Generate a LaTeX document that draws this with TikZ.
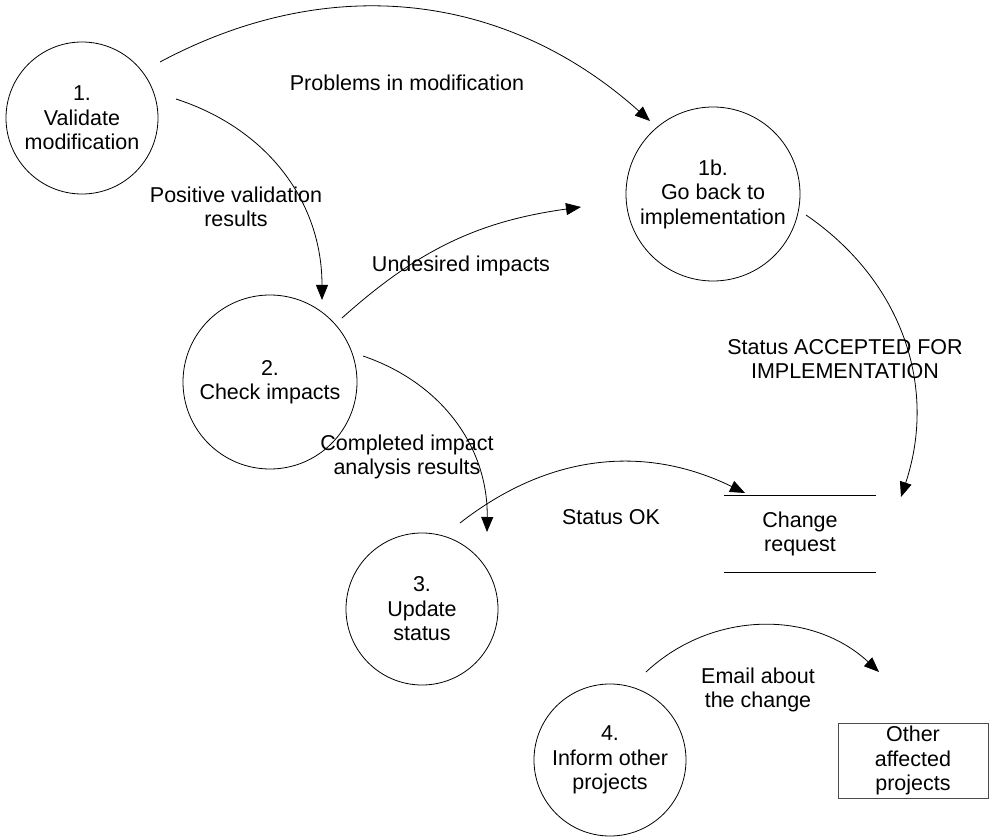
\documentclass[tikz,border=0pt]{standalone}
\usepackage{fontspec}
\setmainfont{Liberation Sans}
\usetikzlibrary{arrows.meta}
\begin{document}
\begin{tikzpicture}[x=1pt,y=1pt,
  every node/.style={font=\fontsize{21.5}{24.5}\selectfont},
  proc/.style={circle,draw,line width=0.8pt,inner sep=0pt,align=center},
  flow/.style={line width=0.8pt,-{Triangle[length=15pt,width=12pt]}},
  lbl/.style={align=center,inner sep=0pt}]
\useasboundingbox (0,0) rectangle (989,-837);

% processes
\node[proc,minimum size=152] (v)  at (82,-118)  {1.\\Validate\\modification};
\node[proc,minimum size=174] (gb) at (713,-194) {1b.\\Go back to\\implementation};
\node[proc,minimum size=174] (ci) at (270,-382) {2.\\Check impacts};
\node[proc,minimum size=152] (us) at (422,-609) {3.\\Update\\status};
\node[proc,minimum size=152] (io) at (610,-760) {4.\\Inform other\\projects};

% data store
\node[align=center,minimum width=152,minimum height=76,inner sep=0pt] (cr) at (800,-534) {Change\\request};
\draw[line width=0.8pt] (cr.north west) -- (cr.north east) (cr.south west) -- (cr.south east);

% external entity
\node[draw=black!70,line width=1pt,align=center,minimum width=150,minimum height=75,inner sep=0pt] (oap) at (913,-760.5) {Other\\affected\\projects};

% flow end points
\coordinate (a1) at (160,-62);  \coordinate (a2) at (650,-121);
\coordinate (b1) at (176,-99);  \coordinate (b2) at (322,-300);
\coordinate (c1) at (342,-318); \coordinate (c2) at (581,-207);
\coordinate (d1) at (363,-356); \coordinate (d2) at (487,-532);
\coordinate (e1) at (460,-523); \coordinate (e2) at (745,-493);
\coordinate (f1) at (806,-215); \coordinate (f2) at (901,-497);
\coordinate (g1) at (646,-672); \coordinate (g2) at (879,-672);

% flows
\draw[flow] (a1) to[bend left=35] (a2);
\draw[flow] (b1) to[bend left=36] (b2);
\draw[flow] (c1) to[bend left=17] (c2);
\draw[flow] (d1) to[bend left=36] (d2);
\draw[flow] (e1) to[bend left=32] (e2);
\draw[flow] (f1) to[bend left=37] (f2);
\draw[flow] (g1) to[bend left=43] (g2);

% flow labels
\node[lbl] (la) at (407,-83)  {Problems in modification};
\node[lbl] (lb) at (236,-207) {Positive validation\\results};
\node[lbl] (lc) at (461,-266) {Undesired impacts};
\node[lbl] (ld) at (407,-457) {Completed impact\\analysis results};
\node[lbl] (le) at (611,-517) {Status OK};
\node[lbl] (lf) at (845,-359) {Status ACCEPTED FOR\\IMPLEMENTATION};
\node[lbl] (lg) at (758,-690) {Email about\\the change};
\end{tikzpicture}
\end{document}
